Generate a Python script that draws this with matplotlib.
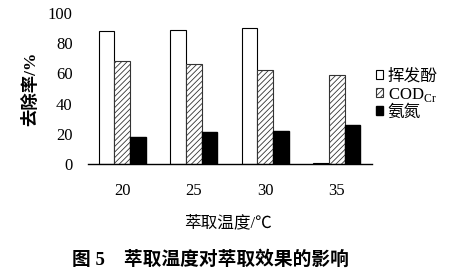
import numpy as np
import matplotlib
matplotlib.use("Agg")
import matplotlib.pyplot as plt

plt.rcParams['font.family'] = ['Liberation Serif', 'Noto Sans CJK SC']
plt.rcParams['hatch.linewidth'] = 0.6

# 数据
temps = ['20', '25', '30', '35']
phenol = [88, 89, 90, 1]      # 挥发酚
cod = [68, 66, 62, 59]        # COD_Cr
ammonia = [18, 21, 22, 26]    # 氨氮

fig = plt.figure(figsize=(4.63, 2.72), dpi=100)
ax = fig.add_axes([0.19, 0.397, 0.613, 0.555])

x = np.arange(len(temps))
w = 0.22
ax.bar(x - w, phenol, w, facecolor='white', edgecolor='black', linewidth=0.8, label='挥发酚')
ax.bar(x, cod, w, facecolor='white', edgecolor='#333333', hatch='//////', linewidth=0.8,
       label='COD$_{\\mathregular{Cr}}$')
ax.bar(x + w, ammonia, w, facecolor='black', edgecolor='black', label='氨氮')

ax.set_xlim(-0.48, 3.49)
ax.set_ylim(0, 100)
ax.set_yticks(np.arange(0, 101, 20))
ax.set_xticks(x)
ax.set_xticklabels(temps)
ax.tick_params(axis='y', length=0, pad=11, labelsize=12)
ax.tick_params(axis='x', length=0, pad=14, labelsize=12)
for s in ['top', 'right', 'left']:
    ax.spines[s].set_visible(False)
ax.spines['bottom'].set_linewidth(1.0)

ax.set_ylabel('去除率/%', fontsize=12.5, fontweight='bold', labelpad=6)
fig.text(0.493, 0.18, '萃取温度/℃', ha='center', va='center', fontsize=12)
fig.text(0.454, 0.044, '图 5    萃取温度对萃取效果的影响', ha='center', va='center',
         fontsize=13.5, fontweight='bold')

fig.legend(loc='upper left', bbox_to_anchor=(0.812, 0.747), frameon=False,
           fontsize=12, handlelength=0.45, handleheight=0.45, handletextpad=0.25,
           labelspacing=0.05, borderaxespad=0, borderpad=0)

fig.savefig('out.png', dpi=100)
